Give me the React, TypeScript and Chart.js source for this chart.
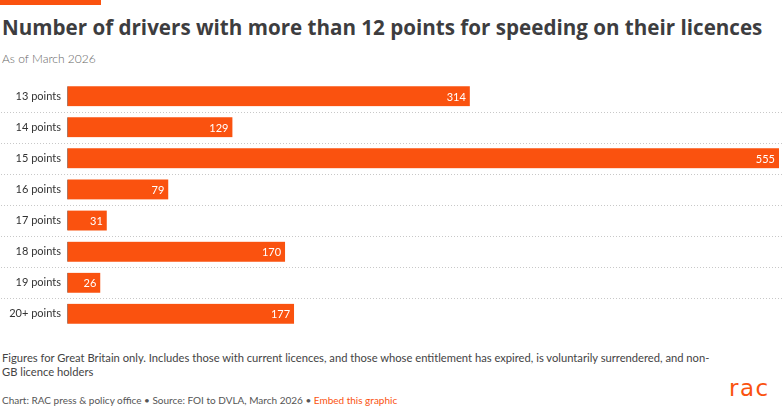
import React, { useEffect, useRef } from "react";
import { Chart, registerables } from "chart.js";

Chart.register(...registerables);

const categories = [
  "13 points",
  "14 points",
  "15 points",
  "16 points",
  "17 points",
  "18 points",
  "19 points",
  "20+ points",
];
const drivers = [314, 129, 555, 79, 31, 170, 26, 177];

const ORANGE = "#fa520f";
const FONT = "Lato, 'Open Sans', sans-serif";

const rowSeparators = {
  id: "rowSeparators",
  beforeDatasetsDraw(chart: any) {
    const { ctx, scales } = chart;
    const y = scales.y;
    ctx.save();
    ctx.strokeStyle = "#c8c8c8";
    ctx.lineWidth = 1;
    ctx.setLineDash([1, 2]);
    for (let i = 0; i < categories.length - 1; i++) {
      const py = Math.round((y.getPixelForValue(i) + y.getPixelForValue(i + 1)) / 2) + 0.5;
      ctx.beginPath();
      ctx.moveTo(1, py);
      ctx.lineTo(chart.width, py);
      ctx.stroke();
    }
    ctx.restore();
  },
};

const valueLabels = {
  id: "valueLabels",
  afterDatasetsDraw(chart: any) {
    const { ctx } = chart;
    const meta = chart.getDatasetMeta(0);
    ctx.save();
    ctx.fillStyle = "#ffffff";
    ctx.font = `11px ${FONT}`;
    ctx.textAlign = "right";
    ctx.textBaseline = "middle";
    meta.data.forEach((bar: any, i: number) => {
      ctx.fillText(String(drivers[i]), bar.x - 4, bar.y + 1);
    });
    ctx.restore();
  },
};

export default function App() {
  const canvasRef = useRef<HTMLCanvasElement | null>(null);

  useEffect(() => {
    if (!canvasRef.current) return;
    const chart = new Chart(canvasRef.current, {
      type: "bar",
      data: {
        labels: categories,
        datasets: [
          {
            data: drivers,
            backgroundColor: ORANGE,
            borderColor: "#8a8a8a",
            borderWidth: { left: 1, top: 0, right: 0, bottom: 0 },
            borderSkipped: false,
            barThickness: 20,
          },
        ],
      },
      options: {
        indexAxis: "y",
        responsive: true,
        maintainAspectRatio: false,
        animation: false,
        layout: { padding: { left: 0, right: 3, top: 0, bottom: 0 } },
        plugins: {
          legend: { display: false },
          tooltip: { enabled: false },
        },
        scales: {
          x: { display: false, min: 0, max: 555 },
          y: {
            afterFit(scale: any) {
              scale.width = 67;
            },
            border: { display: false },
            grid: { display: false, drawTicks: false },
            ticks: {
              padding: 6,
              color: "#333333",
              font: { family: FONT, size: 11 },
            },
          },
        },
      },
      plugins: [rowSeparators, valueLabels],
    });
    return () => chart.destroy();
  }, []);

  return (
    <div
      style={{
        position: "absolute",
        left: 0,
        top: 0,
        width: 782,
        height: 408,
        background: "#ffffff",
        fontFamily: FONT,
        overflow: "hidden",
      }}
    >
      <div style={{ position: "absolute", left: 0, top: 0, width: 101, height: 5, background: ORANGE }} />
      <div
        style={{
          position: "absolute",
          left: 2,
          top: 14,
          fontSize: 20.6,
          fontFamily: "'Open Sans', sans-serif",
          fontWeight: 700,
          color: "#3d3d3f",
          whiteSpace: "nowrap",
          lineHeight: "26px",
        }}
      >
        Number of drivers with more than 12 points for speeding on their licences
      </div>
      <div
        style={{
          position: "absolute",
          left: 2,
          top: 51,
          fontSize: 12,
          fontWeight: 300,
          color: "#666666",
          lineHeight: "16px",
        }}
      >
        As of March 2026
      </div>
      <div style={{ position: "absolute", left: 0, top: 68, width: 782, height: 274 }}>
        <canvas ref={canvasRef} />
      </div>
      <div
        style={{
          position: "absolute",
          left: 2,
          top: 351,
          width: 720,
          fontSize: 11.2,
          color: "#444444",
          lineHeight: "14px",
        }}
      >
        Figures for Great Britain only. Includes those with current licences, and those whose entitlement has expired, is voluntarily surrendered, and non-GB licence holders
      </div>
      <div
        style={{
          position: "absolute",
          left: 2,
          top: 393,
          fontSize: 10,
          color: "#555555",
          lineHeight: "14px",
          whiteSpace: "nowrap",
        }}
      >
        Chart: RAC press &amp; policy office • Source: FOI to DVLA, March 2026 •{" "}
        <span style={{ color: ORANGE }}>Embed this graphic</span>
      </div>
      <div
        style={{
          position: "absolute",
          left: 729,
          top: 377,
          fontSize: 23,
          fontFamily: "'DejaVu Sans', sans-serif",
          color: ORANGE,
          lineHeight: "23px",
          letterSpacing: 1.5,
        }}
      >
        rac
      </div>
    </div>
  );
}
